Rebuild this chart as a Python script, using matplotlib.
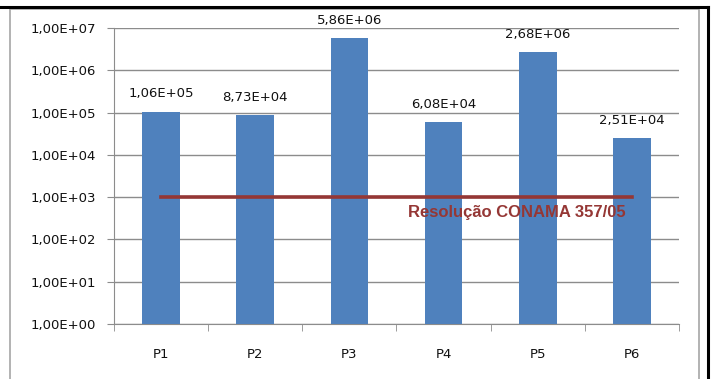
import matplotlib
matplotlib.use("Agg")
import matplotlib.pyplot as plt
from matplotlib.lines import Line2D
from matplotlib.patches import Rectangle
import numpy as np

categories = ["P1", "P2", "P3", "P4", "P5", "P6"]
values = [1.06e5, 8.73e4, 5.86e6, 6.08e4, 2.68e6, 2.51e4]
value_labels = ["1,06E+05", "8,73E+04", "5,86E+06", "6,08E+04", "2,68E+06", "2,51E+04"]
limit_value = 1e3
limit_label = "Resolução CONAMA 357/05"
ytick_values = [1e0, 1e1, 1e2, 1e3, 1e4, 1e5, 1e6, 1e7]
ytick_labels = ["1,00E+00", "1,00E+01", "1,00E+02", "1,00E+03",
                "1,00E+04", "1,00E+05", "1,00E+06", "1,00E+07"]

W, H = 712, 379
fig = plt.figure(figsize=(W / 100, H / 100), dpi=100)
fig.patch.set_facecolor("white")

# outer frames
fig.add_artist(Rectangle((10 / W, -0.1), (699 - 10) / W, 1.1 - 9 / H,
                         transform=fig.transFigure, fill=False,
                         edgecolor="#a6a6a6", linewidth=1.2))
fig.add_artist(Line2D([0, 708 / W], [1 - 6.5 / H] * 2, transform=fig.transFigure,
                      color="black", linewidth=2.2))
fig.add_artist(Line2D([708 / W] * 2, [0, 1 - 6.5 / H], transform=fig.transFigure,
                      color="black", linewidth=2.2))

ax = fig.add_axes([114 / W, 1 - 324 / H, (679 - 114) / W, (324 - 28) / H])
x = np.arange(len(categories))
ax.set_yscale("log")
ax.set_ylim(1, 1e7)
ax.set_xlim(-0.5, len(categories) - 0.5)

ax.bar(x, values, width=0.4, color="#4f81bd", zorder=3)
for xi, v, lab in zip(x, values, value_labels):
    ax.annotate(lab, (xi, v), xytext=(0, 8), textcoords="offset points",
                ha="center", va="bottom", fontsize=9.5, color="#111111",
                family="DejaVu Sans", zorder=5)

ax.plot([x[0], x[-1]], [limit_value, limit_value], color="#953735",
        linewidth=2.6, zorder=4)
ax.text(3.78, 440, limit_label, transform=ax.transData,
        ha="center", va="center", fontsize=12, fontweight="bold",
        color="#953735", family="Liberation Sans", zorder=6)

ax.set_yticks(ytick_values)
ax.set_yticklabels(ytick_labels)
ax.yaxis.set_minor_locator(matplotlib.ticker.NullLocator())
ax.grid(axis="y", color="#8c8c8c", linewidth=1.0, zorder=0)
ax.set_xticks(x)
ax.set_xticklabels(categories)
ax.set_xticks(np.arange(len(categories) + 1) - 0.5, minor=True)
ax.tick_params(axis="x", which="major", length=0, pad=17, labelsize=9.5)
ax.tick_params(axis="x", which="minor", length=5, color="#8c8c8c", direction="out")
ax.tick_params(axis="y", length=5, color="#8c8c8c", labelsize=9.5, pad=8)
for lab in ax.get_yticklabels() + ax.get_xticklabels():
    lab.set_color("#111111")

for s in ["top", "right"]:
    ax.spines[s].set_visible(False)
ax.spines["left"].set_color("#8c8c8c")
ax.spines["bottom"].set_color("#8c8c8c")
ax.set_facecolor("white")

fig.savefig("out.png", dpi=100, facecolor="white")
